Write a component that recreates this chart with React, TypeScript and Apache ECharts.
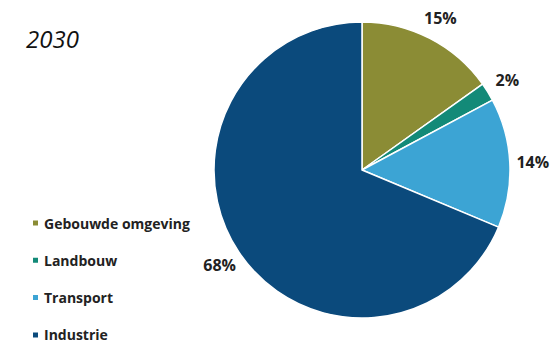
import React, { useEffect, useRef } from "react";
import * as echarts from "echarts";

const title = "2030";
const categories = ["Gebouwde omgeving", "Landbouw", "Transport", "Industrie"];
const values = [15, 2, 14, 68];
const colors = ["#8b8c35", "#138a78", "#3ca4d4", "#0b4a7c"];

export default function App() {
  const ref = useRef<HTMLDivElement>(null);
  useEffect(() => {
    document.body.style.margin = "0";
    const chart = echarts.init(ref.current!, null, { renderer: "svg" });
    const data = categories.map((name, i) => ({
      name,
      value: values[i],
      itemStyle: { color: colors[i] },
    }));
    chart.setOption({
      animation: false,
      title: {
        text: title,
        left: 21,
        top: 21,
        textStyle: {
          fontFamily: "Open Sans",
          fontStyle: "italic",
          fontWeight: "normal",
          fontSize: 24,
          color: "#111",
        },
      },
      legend: {
        orient: "vertical",
        left: 26,
        top: 210,
        height: 200,
        icon: "rect",
        itemWidth: 7,
        itemHeight: 7,
        itemGap: 21.3,
        data: categories,
        textStyle: {
          fontFamily: "Open Sans",
          fontWeight: "bold",
          fontSize: 14,
          color: "#222",
          lineHeight: 16,
        },
      },
      series: [
        {
          type: "pie",
          center: [362, 170],
          radius: [0, 148],
          startAngle: 90,
          clockwise: true,
          silent: true,
          label: { show: false },
          labelLine: { show: false },
          itemStyle: { borderColor: "#fff", borderWidth: 1.5 },
          data,
        },
        {
          type: "pie",
          center: [362, 170],
          radius: [158, 178],
          startAngle: 90,
          clockwise: true,
          silent: true,
          itemStyle: { color: "rgba(0,0,0,0)" },
          label: {
            show: true,
            position: "inside",
            formatter: "{c}%",
            fontFamily: "Open Sans",
            fontWeight: "bold",
            fontSize: 16,
            color: "#222",
          },
          labelLine: { show: false },
          data: categories.map((name, i) => ({ name, value: values[i] })),
        },
      ],
    });
    return () => chart.dispose();
  }, []);
  return <div ref={ref} style={{ width: 551, height: 344 }} />;
}
